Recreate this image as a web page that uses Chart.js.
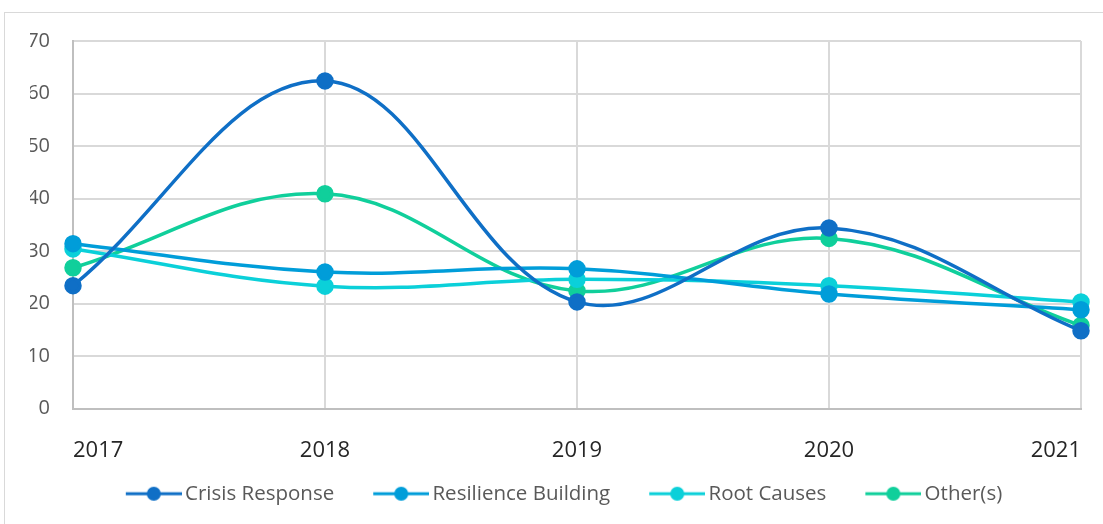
<!DOCTYPE html>
<html>
<head>
<meta charset="utf-8">
<script src="https://cdn.jsdelivr.net/npm/chart.js@4"></script>
<style>
    html, body { margin: 0; padding: 0; background: #fff; }
    #wrap { position: relative; width: 1103px; height: 524px; }
    #frame {
        position: absolute; left: 4px; top: 12px; width: 1110px; height: 530px;
        border: 1px solid #d9d9d9; box-sizing: border-box; pointer-events: none;
    }
</style>
</head>
<body>
<div id="wrap">
    <canvas id="chart" width="1103" height="524"></canvas>
    <div id="frame"></div>
</div>
<script>
    const years = ['2017', '2018', '2019', '2020', '2021']
    const crisisResponse = [23.4, 62.4, 20.3, 34.4, 14.8]
    const resilienceBuilding = [31.4, 26.0, 26.6, 21.8, 18.8]
    const rootCauses = [30.4, 23.3, 24.6, 23.4, 20.3]
    const others = [26.8, 40.9, 22.4, 32.4, 15.8]
    const yTicks = [0, 10, 20, 30, 40, 50, 60, 70]

    const COLORS = {
        crisis: '#0F6FC6',
        resilience: '#009DD9',
        root: '#0BD0D9',
        other: '#10CF9B',
    }

    // line-with-dot marker for the legend; left part of the image is empty
    // so the visible marker sits close to its text
    function legendMarker(color) {
        const c = document.createElement('canvas')
        c.width = 80
        c.height = 16
        const ctx = c.getContext('2d')
        ctx.strokeStyle = color
        ctx.lineWidth = 3
        ctx.beginPath()
        ctx.moveTo(24, 8)
        ctx.lineTo(80, 8)
        ctx.stroke()
        ctx.fillStyle = color
        ctx.beginPath()
        ctx.arc(52, 8, 7, 0, Math.PI * 2)
        ctx.fill()
        return c
    }

    function series(label, data, color) {
        return {
            label: label,
            data: data,
            borderColor: color,
            backgroundColor: color,
            pointBackgroundColor: color,
            pointBorderColor: color,
            borderWidth: 3.5,
            pointRadius: 7,
            pointHoverRadius: 7,
            tension: 0.38,
            clip: false,
            pointStyle: 'circle',
            legendMarker: legendMarker(color),
        }
    }

    new Chart(document.getElementById('chart'), {
        type: 'line',
        data: {
            labels: years,
            datasets: [
                series('Crisis Response', crisisResponse, COLORS.crisis),
                series('Resilience Building', resilienceBuilding, COLORS.resilience),
                series('Root Causes', rootCauses, COLORS.root),
                series('Other(s)', others, COLORS.other),
            ],
        },
        options: {
            responsive: false,
            animation: false,
            layout: {
                padding: { left: 30, right: 22, top: 41, bottom: 10 },
            },
            plugins: {
                tooltip: { enabled: false },
                legend: {
                    position: 'bottom',
                    labels: {
                        usePointStyle: true,
                        pointStyleWidth: 66,
                        padding: 22,
                        color: '#595959',
                        font: { family: 'Open Sans', size: 20.5 },
                        generateLabels: (chart) => chart.data.datasets.map((ds, i) => ({
                            text: ds.label,
                            pointStyle: ds.legendMarker,
                            fillStyle: ds.borderColor,
                            strokeStyle: ds.borderColor,
                            lineWidth: 0,
                            hidden: false,
                            datasetIndex: i,
                            fontColor: '#595959',
                        })),
                    },
                },
            },
            scales: {
                x: {
                    offset: false,
                    grid: { color: '#d9d9d9', lineWidth: 2, drawTicks: false },
                    border: { color: '#bfbfbf', width: 2 },
                    ticks: {
                        padding: 29,
                        align: 'inner',
                        color: '#262626',
                        font: { family: 'Open Sans', size: 22 },
                        maxRotation: 0,
                    },
                    afterFit: (scale) => {
                        scale.height = 53
                        scale.paddingLeft = 0
                        scale.paddingRight = 0
                    },
                },
                y: {
                    min: 0,
                    max: 70,
                    afterBuildTicks: (scale) => { scale.ticks = yTicks.map(v => ({ value: v })) },
                    grid: { color: '#d9d9d9', lineWidth: 2, drawTicks: false },
                    border: { color: '#bfbfbf', width: 2 },
                    ticks: {
                        padding: 23,
                        color: '#595959',
                        font: { family: 'Open Sans', size: 20 },
                    },
                    afterFit: (scale) => { scale.width = 43 },
                },
            },
        },
    })
</script>
</body>
</html>
